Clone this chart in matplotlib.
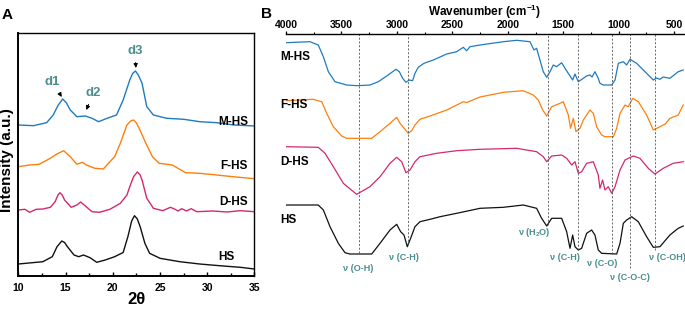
import numpy as np
import matplotlib
matplotlib.use('Agg')
import matplotlib.pyplot as plt

plt.rcParams['font.family'] = ['Liberation Sans', 'DejaVu Sans']
plt.rcParams['font.weight'] = 'bold'
plt.rcParams['mathtext.fontset'] = 'custom'
plt.rcParams['mathtext.rm'] = 'Liberation Sans:bold'
plt.rcParams['mathtext.default'] = 'rm'

# ---- panel A : XRD (2theta, intensity a.u. with offsets baked in) ----
mhs_tt = [10.0, 11.6, 13.0, 13.7, 14.2, 14.7, 15.1, 15.5, 16.2, 17.1, 17.8, 18.5, 19.4, 20.4,
          21.1, 21.8, 22.1, 22.4, 22.7, 23.1, 23.6, 24.3, 25.7, 27.5, 29.2, 31.0, 32.8, 35.0]
mhs_i = [151, 150.3, 153.3, 161, 170.5, 177, 173, 166, 159.3, 160, 157.7, 154.3, 157.7, 161,
         176, 196, 202.5, 205, 201, 192.7, 169.3, 161, 157.7, 156.7, 154.3, 153.3, 151, 150]

fhs_tt = [10.0, 11.2, 12.2, 13.2, 14.1, 14.8, 15.5, 16.2, 16.8, 17.2, 18.1, 19.0, 19.7, 20.2,
          20.8, 21.5, 21.9, 22.2, 22.5, 22.8, 23.5, 24.2, 24.9, 26.3, 27.7, 29.2, 31.0, 32.7, 35.0]
fhs_i = [109.3, 111, 111.7, 116.7, 122, 125.3, 119.3, 111.7, 113.7, 111, 107.7, 107, 114.3, 119.3,
         132.7, 151, 155, 156, 153, 147.7, 132.7, 119.3, 112.7, 111, 103.3, 102.7, 101, 99.3, 97.3]

dhs_tt = [10.0, 10.7, 11.2, 11.9, 12.6, 13.4, 13.9, 14.2, 14.4, 14.65, 14.9, 15.6, 16.2, 16.6,
          17.1, 17.8, 18.6, 19.7, 20.8, 21.5, 21.8, 22.2, 22.6, 22.9, 23.1, 23.6, 24.3, 25.3,
          26.1, 26.6, 26.9, 27.3, 27.8, 28.3, 28.9, 30.6, 32.1, 33.5, 35.0]
dhs_i = [66, 66.7, 63.7, 66.7, 67, 68.7, 74.3, 81, 83.3, 81, 76, 68.7, 71, 74,
         70, 64.3, 63.7, 66.7, 72.7, 81, 89.3, 99.3, 104, 101, 96, 77.7, 67.7, 65.3,
         68.7, 66.7, 65, 67.3, 65, 67.3, 64.3, 65, 64, 65.3, 64.3]

hs_tt = [10.0, 12.6, 13.6, 14.1, 14.6, 14.9, 15.2, 15.9, 16.4, 16.9, 17.6, 18.3, 19.2, 20.2,
         21.1, 21.6, 22.0, 22.3, 22.6, 22.9, 23.4, 23.9, 25.0, 27.1, 29.2, 31.3, 33.5, 35.0]
hs_i = [12, 14.3, 19.3, 29.3, 35, 33.5, 29.3, 21, 19.3, 21, 18.3, 13.7, 16, 19.3,
        23.5, 39.3, 55, 60.3, 57, 49.3, 32.7, 22.7, 17.7, 14.3, 12, 10.3, 8.7, 7]

# ---- panel B : FTIR (wavenumber, transmittance a.u. with offsets baked in) ----
m_wn = [4000, 3900, 3784, 3709, 3663, 3618, 3558, 3453, 3357, 3243, 3167, 3092, 3008, 2978,
        2948, 2918, 2888, 2858, 2837, 2807, 2756, 2671, 2551, 2461, 2401, 2371, 2341, 2250,
        2040, 1920, 1800, 1764, 1740, 1710, 1680, 1649, 1619, 1590, 1560, 1514, 1484, 1445,
        1415, 1394, 1364, 1319, 1290, 1259, 1240, 1214, 1184, 1169, 1139, 1063, 1033, 1003,
        958, 928, 898, 838, 763, 688, 660, 628, 600, 538, 463, 418]
m_t = [233.3, 233.8, 234.3, 231, 219.3, 204.3, 194.3, 191, 190.3, 191, 194.3, 200, 206.7, 204.3,
       197.7, 193.7, 196, 195.3, 202.7, 208.7, 212.7, 216, 222, 224.3, 228.7, 225.3, 229.3, 231,
       234.3, 235.7, 234.3, 226, 227.7, 216, 204.3, 198.7, 204.3, 211, 209.3, 213.3, 207.7, 201,
       196, 202, 194.3, 197.7, 200, 201, 199, 204.3, 197.7, 192.7, 191, 191, 196, 212.7,
       214.3, 211, 216.7, 212.7, 204.3, 196, 198, 196.7, 199, 197.7, 204.3, 206]

f_wn = [4000, 3754, 3678, 3633, 3573, 3498, 3453, 3227, 3152, 3062, 3002, 2972, 2927, 2897,
        2867, 2837, 2792, 2701, 2551, 2401, 2371, 2250, 2040, 1860, 1770, 1725, 1685, 1649,
        1604, 1529, 1499, 1454, 1434, 1409, 1385, 1349, 1319, 1289, 1259, 1229, 1199, 1154,
        1124, 1048, 1018, 988, 943, 913, 873, 823, 748, 688, 628, 580, 538, 463, 418]
f_t = [175.3, 176.7, 174.3, 162.7, 149.3, 140, 137.7, 137.7, 144.3, 152.7, 158.7, 152.7, 146.7, 142.7,
       145.3, 151, 156.7, 160, 166, 174.3, 173.5, 179, 183.7, 185.3, 181, 176, 166, 160,
       169.3, 172.7, 174.3, 161, 147.7, 157.7, 144.3, 147.7, 156, 161, 166, 162.7, 149.3, 141,
       139.3, 139.3, 147.7, 162.7, 171, 169.3, 177.7, 174.3, 161, 146, 149.3, 152, 157.7, 161, 171]

d_wn = [4000, 3709, 3648, 3573, 3483, 3363, 3243, 3152, 3062, 3002, 2957, 2918, 2882, 2837,
        2792, 2641, 2461, 2250, 1920, 1740, 1680, 1649, 1604, 1514, 1469, 1424, 1394, 1364,
        1334, 1289, 1229, 1184, 1169, 1145, 1124, 1094, 1063, 1033, 988, 943, 913, 868,
        808, 733, 673, 598, 508, 418]
d_t = [129.3, 128.7, 122.7, 109.3, 92.7, 81.7, 89.3, 99.3, 112.7, 118.7, 114.3, 103.3, 106, 114.3,
       119.3, 122.7, 125.3, 126.7, 127.7, 124.3, 119.3, 114.3, 120, 121, 117.7, 111, 114.3, 102.7,
       104.3, 112.7, 114.3, 101, 87.7, 96, 86, 89.3, 82.7, 89.3, 106, 116, 117.7, 120,
       117.7, 107.7, 102, 107.7, 112.7, 114.3]

h_wn = [4000, 3709, 3663, 3603, 3528, 3468, 3423, 3227, 3152, 3062, 3002, 2966, 2936, 2906,
        2876, 2837, 2792, 2701, 2611, 2461, 2250, 2040, 1860, 1740, 1695, 1649, 1604, 1514,
        1469, 1439, 1415, 1394, 1364, 1334, 1289, 1244, 1214, 1184, 1154, 1018, 988, 958,
        928, 883, 823, 748, 688, 628, 538, 463, 418]
h_t = [71, 71, 66, 49.3, 32.7, 23.3, 22, 22, 32.7, 46, 51.7, 44.3, 41, 29.3,
       37.7, 49.3, 54.3, 56.7, 59.3, 62.7, 67.7, 68.7, 71, 67.7, 57.7, 50, 57.7, 57.7,
       44.3, 27.7, 41, 29.3, 26, 27.7, 42.7, 46, 41, 26, 22.7, 22, 32.7, 52.7,
       56, 59.3, 54.3, 39.3, 28.7, 29.3, 41, 47.7, 50]

series_names = ['M-HS', 'F-HS', 'D-HS', 'HS']
colors = ['#1f7bc0', '#ff7f0e', '#d4286f', '#111111']
teal = '#4a8e8e'

# band assignments
band_wn = [3340, 2900, 1640, 1370, 1060, 900, 670]
band_lbl = ['ν (O-H)', 'ν (C-H)', 'ν (H$_2$O)', 'ν (C-H)', 'ν (C-O)', 'ν (C-O-C)', 'ν (C-OH)']
band_end = [23, 31, 51, 26, 22, 8, 26]
lbl_x = [3351, 2936, 1764, 1484, 1151, 898, 564]
lbl_y = [8, 19, 44, 19, 13, -1, 19]

fig = plt.figure(figsize=(6.85, 3.14), dpi=100)

# ---------------- A ----------------
axA = fig.add_axes([0.0267, 0.121, 0.3448, 0.774])
for tt, ii, c in zip([mhs_tt, fhs_tt, dhs_tt, hs_tt], [mhs_i, fhs_i, dhs_i, hs_i], colors):
    axA.plot(tt, ii, color=c, lw=1.0)
axA.set_xlim(10, 35)
axA.set_ylim(0, 243)
axA.set_xticks(np.arange(10, 36, 5))
axA.set_xticks(np.arange(10, 36, 2.5), minor=True)
axA.set_yticks([])
axA.tick_params(axis='x', which='both', direction='in', labelsize=7.5, pad=5)
axA.tick_params(axis='x', which='major', length=3, width=1)
axA.tick_params(axis='x', which='minor', length=2, width=1)
for s in axA.spines.values():
    s.set_linewidth(1.0)
axA.spines['bottom'].set_linewidth(1.4)
axA.spines['left'].set_linewidth(1.4)

for name, x, y in zip(series_names, [34.3, 34.3, 34.3, 32.9], [154.3, 110.3, 74.3, 19.3]):
    axA.text(x, y, name, ha='right', va='center', fontsize=8.5, fontweight='bold')

for lbl, xy, xyt in [('d1', (14.6, 179), (13.64, 194)),
                     ('d2', (17.2, 166), (17.94, 183)),
                     ('d3', (22.45, 208), (22.35, 225))]:
    axA.annotate(lbl, xy=xy, xytext=xyt, ha='center', va='center', fontsize=9.5,
                 fontweight='bold', color=teal,
                 arrowprops=dict(arrowstyle='-|>', color='black', lw=0.7,
                                 mutation_scale=6, shrinkA=2, shrinkB=0))

fig.text(7 / 685, 1 - 160 / 314, 'Intensity (a.u.)', rotation=90, ha='center', va='center',
         fontsize=11, fontweight='bold')
fig.text(137 / 685, 1 - 300 / 314, '2θ', ha='center', va='center', fontsize=12,
         fontweight='bold')
fig.text(7 / 685, 1 - 15 / 314, 'A', ha='center', va='center', fontsize=11, fontweight='bold')

# ---------------- B ----------------
axB = fig.add_axes([0.4175, 0.121, 0.5812, 0.7707])
for wn, tr, c in zip([m_wn, f_wn, d_wn, h_wn], [m_t, f_t, d_t, h_t], colors):
    axB.plot(wn, tr, color=c, lw=0.9)
axB.set_xlim(4000, 410)
axB.set_ylim(0, 242)
axB.vlines(band_wn, band_end, 242, colors='#555555', linestyles=(0, (2.5, 2)), lw=0.6)
for x, y, t in zip(lbl_x, lbl_y, band_lbl):
    axB.text(x, y, t, ha='center', va='center', fontsize=6.5, color=teal, clip_on=False)

for name, y in zip(series_names, [219.3, 171, 114.3, 56]):
    axB.text(4054, y, name, ha='left', va='center', fontsize=8.5, fontweight='bold',
             clip_on=False)

axB.xaxis.tick_top()
axB.xaxis.set_label_position('top')
axB.set_xticks(np.arange(4000, 499, -500))
axB.set_xticks(np.arange(4000, 410, -250), minor=True)
axB.set_yticks([])
axB.tick_params(axis='x', which='both', direction='out', labelsize=7.5, pad=0.8)
axB.tick_params(axis='x', which='major', length=2.2, width=0.9)
axB.tick_params(axis='x', which='minor', length=1.2, width=0.8)
for k in ['bottom', 'left', 'right']:
    axB.spines[k].set_visible(False)
axB.spines['top'].set_linewidth(1.0)
axB.set_xlabel('Wavenumber (cm$^{-1}$)', fontsize=8.5, fontweight='bold', labelpad=3)
fig.text(266 / 685, 1 - 14 / 314, 'B', ha='center', va='center', fontsize=11, fontweight='bold')

fig.savefig('out.png', dpi=100)
